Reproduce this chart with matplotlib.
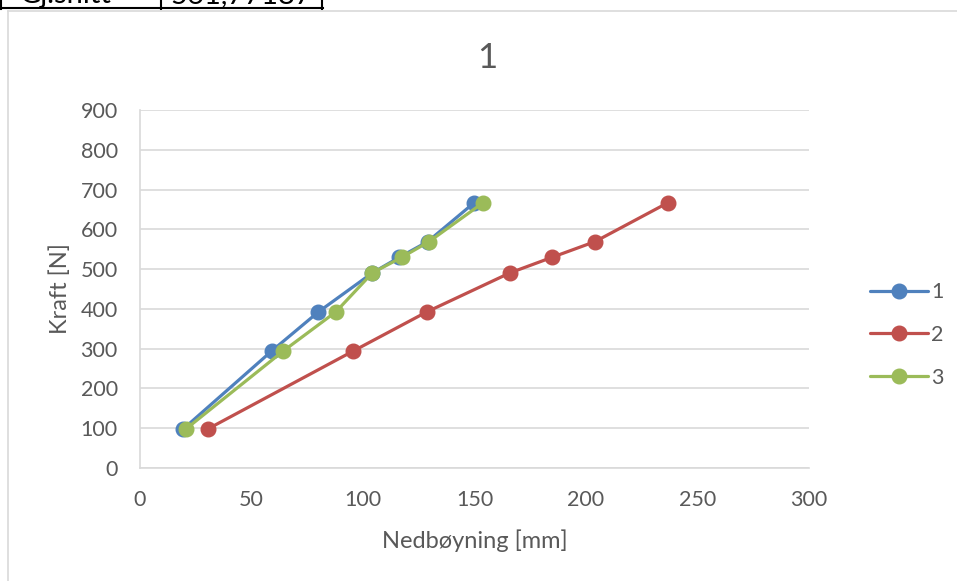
import matplotlib
matplotlib.use("Agg")
import matplotlib.pyplot as plt
from matplotlib.lines import Line2D

plt.rcParams['font.family'] = ['Lato', 'DejaVu Sans']

# kraft i N (belastning i kg * 9.81)
kraft = [98.1, 294.3, 392.4, 490.5, 529.7, 569.0, 667.1]

# nedbøyning i mm for hver prøve
nedboyning_1 = [19.4, 59.1, 80.0, 104.2, 116.3, 129.0, 149.9]
nedboyning_2 = [30.4, 95.7, 128.6, 165.9, 184.8, 204.0, 236.8]
nedboyning_3 = [20.6, 64.3, 87.8, 104.2, 117.4, 129.6, 153.9]

serie_navn = ['1', '2', '3']
farger = ['#4F81BD', '#C0504D', '#9BBB59']

W, H = 957, 581
fig = plt.figure(figsize=(W / 100, H / 100), dpi=100)


def fx(px):
    return px / W


def fy(py):
    return 1 - py / H


# rest av tabellen over diagrammet
for x in (1, 161, 322):
    fig.add_artist(Line2D([fx(x), fx(x)], [fy(-2), fy(9)], color='black', lw=1.5))
fig.add_artist(Line2D([fx(0), fx(323)], [fy(8), fy(8)], color='black', lw=1.5))
fig.text(fx(20), fy(3), 'Gj.snitt', fontsize=21, color='black', va='baseline')
fig.text(fx(170), fy(3), '561,77187', fontsize=21, color='black', va='baseline')

# ramme rundt diagramområdet
fig.add_artist(Line2D([fx(8), fx(8)], [fy(11), fy(H)], color='#D9D9D9', lw=1.2))
fig.add_artist(Line2D([fx(8), fx(W)], [fy(11), fy(11)], color='#D9D9D9', lw=1.2))

ax = fig.add_axes([fx(140), fy(468), (809 - 140) / W, (468 - 110) / H])

for xs, navn, farge in zip([nedboyning_1, nedboyning_2, nedboyning_3], serie_navn, farger):
    ax.plot(xs, kraft, color=farge, lw=2.3, marker='o', markersize=10.5,
            label=navn, solid_capstyle='round')

ax.set_xlim(0, 300)
ax.set_ylim(0, 900)
ax.set_xticks(range(0, 301, 50))
ax.set_yticks(range(0, 901, 100))
ax.grid(axis='y', color='#D9D9D9', lw=1.2)
ax.set_axisbelow(True)
for side in ('top', 'right'):
    ax.spines[side].set_visible(False)
for side in ('left', 'bottom'):
    ax.spines[side].set_color('#D9D9D9')
    ax.spines[side].set_linewidth(1.2)
ax.tick_params(length=0, labelsize=15.5, labelcolor='#595959')
ax.tick_params(axis='y', pad=16)
ax.tick_params(axis='x', pad=16)

ax.set_xlabel('Nedbøyning [mm]', fontsize=17, color='#595959', labelpad=14)
ax.set_ylabel('Kraft [N]', fontsize=17, color='#595959', labelpad=7)
ax.set_title('1', fontsize=25, color='#595959', pad=30, x=0.519)

ax.legend(loc='center left', bbox_to_anchor=(fx(870), fy(335)), bbox_transform=fig.transFigure,
          frameon=False, fontsize=15.5, labelcolor='#595959', handlelength=2.7,
          handletextpad=0.15, labelspacing=1.05, borderpad=0, borderaxespad=0)

fig.savefig('out.png', dpi=100)
